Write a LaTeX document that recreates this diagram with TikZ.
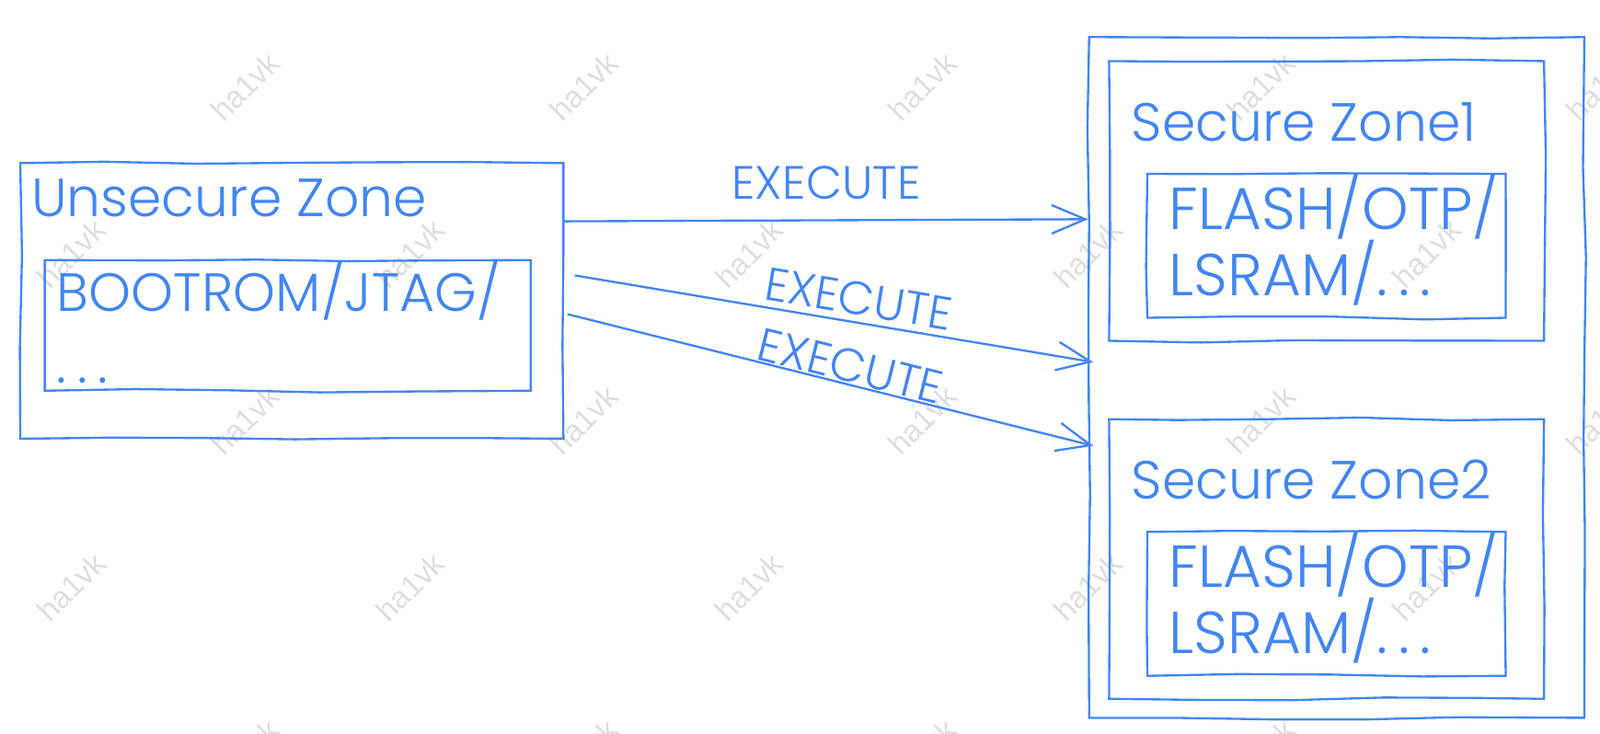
\documentclass[tikz,border=0pt]{standalone}
\usepackage{fontspec}
\setmainfont{Poppins Light}
\newfontfamily\markfont{Liberation Sans}
\usetikzlibrary{arrows.meta,decorations.pathmorphing}
\definecolor{sketchblue}{RGB}{66,133,244}
\definecolor{markgray}{RGB}{222,222,222}
\tikzset{
	zone/.style={draw=sketchblue, line width=0.6pt, rectangle, inner sep=0pt,
		decorate, decoration={random steps, segment length=9mm, amplitude=0.5pt}},
	zonetext/.style={text=sketchblue, font=\fontsize{15}{18}\selectfont, anchor=base west, inner sep=0pt},
	memtext/.style={zonetext, font=\fontsize{16.5}{19}\selectfont},
	exectext/.style={text=sketchblue, font=\fontsize{13}{15}\selectfont},
	flow/.style={draw=sketchblue, line width=0.6pt, -{Straight Barb[length=3.3mm,width=2.8mm]}},
	watermark/.style={text=markgray, font=\markfont\fontsize{8.5}{10}\selectfont, rotate=45}
}
\newcommand{\dotsgap}{.\kern3pt.\kern3pt.}
\begin{document}
\begin{tikzpicture}[x=0.01cm, y=-0.01cm]
					% canvas
					\clip (0,0) rectangle (1568,719);
					% watermark grid
					\foreach \row in {0,...,4}
					{
						\foreach \col in {0,...,4}
						{
							\pgfmathsetmacro{\wx}{240-170*mod(\row,2)+332*\col};
							\pgfmathsetmacro{\wy}{85+163.5*\row};
							\node[watermark] (mark_\row_\col) at (\wx,\wy) {ha1vk};
						}
					}
					% unsecure side
					\node[zone, minimum width=5.32cm, minimum height=2.70cm] (unsecure) at (286,295) {};
					\node[zone, minimum width=4.76cm, minimum height=1.28cm] (bootbox) at (282,319) {};
					\node[zonetext] (unsecureText) at (30,212) {Unsecure Zone};
					\node[zonetext] (bootText) at (55,305) {BOOTROM/JTAG/};
					\node[zonetext] (bootMore) at (55,376) {\dotsgap};
					% secure side
					\node[zone, minimum width=4.85cm, minimum height=6.67cm] (secure) at (1310,370) {};
					\foreach \i/\y in {1/0, 2/351}
					{
						\node[zone, minimum width=4.26cm, minimum height=2.74cm] (zone\i) at (1300,197+\y) {};
						\node[zone, minimum width=3.51cm, minimum height=1.41cm] (flash\i) at (1300,241+\y) {};
						\node[zonetext] (zoneText\i) at (1108,138+\y) {Secure Zone\i};
						\node[memtext] (flashText\i) at (1145,225+\y) {FLASH/OTP/};
						\node[memtext] (ramText\i) at (1145,290+\y) {LSRAM/\dotsgap};
					}
					% execute arrows
					\draw[flow] ([yshift=0.78cm]unsecure.east) -- node[exectext, above=0.8mm] (exec1) {EXECUTE} ([yshift=1.55cm]secure.west);
					\draw[flow] ([xshift=0.1cm, yshift=0.25cm]unsecure.east) -- node[exectext, sloped, above=-0.6mm, pos=0.54] (exec2) {EXECUTE} ([xshift=0.05cm, yshift=0.15cm]secure.west);
					\draw[flow] ([xshift=0.03cm, yshift=-0.13cm]unsecure.east) -- node[exectext, sloped, above=-1.1mm, pos=0.53] (exec3) {EXECUTE} ([xshift=0.05cm, yshift=-0.67cm]secure.west);
				\end{tikzpicture}
\end{document}
